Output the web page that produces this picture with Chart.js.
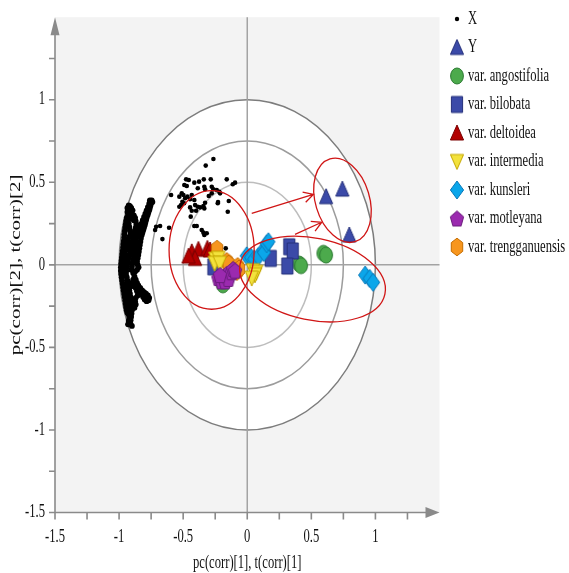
<!DOCTYPE html>
<html>
<head>
<meta charset="utf-8">
<script src="https://cdn.jsdelivr.net/npm/chart.js@4"></script>
<style>
  html, body { margin: 0; padding: 0; background: #fff; }
  canvas { display: block; }
</style>
</head>
<body>
<canvas id="chart" width="569" height="573"></canvas>
<script>
// ---- data ----
const xTicks = [-1.5, -1, -0.5, 0, 0.5, 1];
const yTicks = [-1.5, -1, -0.5, 0, 0.5, 1];
const circleRadii = [1, 0.75, 0.5];
const xTitle = "pc(corr)[1], t(corr)[1]";
const yTitle = "pc(corr)[2], t(corr)[2]";
const legendLabels = ["X", "Y", "var. angostifolia", "var. bilobata", "var. deltoidea",
    "var. intermedia", "var. kunsleri", "var. motleyana", "var. trengganuensis"];

// X variables: dense band near the unit circle + scattered dots
const xBand = [
    [-0.745, 0.39], [-0.75, 0.375], [-0.755, 0.36], [-0.76, 0.345], [-0.765, 0.33], [-0.772, 0.315], [-0.778, 0.30],
    [-0.785, 0.285], [-0.79, 0.27], [-0.795, 0.255], [-0.80, 0.24], [-0.806, 0.225], [-0.812, 0.21], [-0.818, 0.195], [-0.824, 0.18],
    [-0.765, 0.37], [-0.775, 0.35], [-0.785, 0.33], [-0.795, 0.31], [-0.805, 0.29], [-0.815, 0.27], [-0.825, 0.25], [-0.83, 0.23],
    [-0.74, 0.38], [-0.76, 0.39], [-0.78, 0.32], [-0.79, 0.29], [-0.80, 0.26], [-0.81, 0.24], [-0.82, 0.22],
    [-0.84, 0.22], [-0.855, 0.21], [-0.87, 0.20],
    [-0.925, 0.36], [-0.915, 0.355], [-0.905, 0.345], [-0.895, 0.33], [-0.91, 0.325], [-0.925, 0.335], [-0.935, 0.32], [-0.93, 0.30],
    [-0.915, 0.30], [-0.90, 0.31], [-0.885, 0.30], [-0.875, 0.285], [-0.87, 0.265], [-0.885, 0.27], [-0.90, 0.28], [-0.94, 0.285],
    [-0.935, 0.345], [-0.92, 0.31], [-0.905, 0.295], [-0.89, 0.285],
    [-0.945, 0.265], [-0.948, 0.245], [-0.952, 0.225], [-0.955, 0.205], [-0.958, 0.185], [-0.96, 0.165], [-0.963, 0.145],
    [-0.966, 0.125], [-0.969, 0.105], [-0.972, 0.085], [-0.975, 0.065], [-0.978, 0.045], [-0.981, 0.025], [-0.984, 0.005],
    [-0.986, -0.015], [-0.986, -0.035], [-0.984, -0.055], [-0.98, -0.075], [-0.976, -0.095], [-0.972, -0.115], [-0.968, -0.135],
    [-0.964, -0.155], [-0.96, -0.175], [-0.956, -0.195], [-0.952, -0.215], [-0.948, -0.235],
    [-0.93, 0.27], [-0.925, 0.25], [-0.92, 0.23], [-0.915, 0.21], [-0.91, 0.19], [-0.92, 0.17], [-0.93, 0.15], [-0.935, 0.13],
    [-0.94, 0.11], [-0.945, 0.09],
    [-0.865, 0.245], [-0.87, 0.225], [-0.876, 0.205], [-0.882, 0.185], [-0.888, 0.165], [-0.894, 0.145], [-0.90, 0.125],
    [-0.906, 0.105], [-0.912, 0.085], [-0.918, 0.065], [-0.924, 0.045], [-0.93, 0.025], [-0.936, 0.005], [-0.94, -0.015],
    [-0.944, -0.035], [-0.946, -0.055],
    [-0.85, 0.19], [-0.86, 0.17], [-0.87, 0.15], [-0.865, 0.13], [-0.87, 0.11], [-0.875, 0.09], [-0.88, 0.07], [-0.885, 0.05],
    [-0.89, 0.03], [-0.895, 0.01], [-0.90, -0.01], [-0.905, -0.03],
    [-0.955, 0.10], [-0.96, 0.08], [-0.955, 0.06], [-0.95, 0.04], [-0.958, 0.02], [-0.962, 0.0], [-0.965, -0.02], [-0.962, -0.04],
    [-0.83, 0.16], [-0.834, 0.14], [-0.838, 0.12], [-0.842, 0.10], [-0.846, 0.08], [-0.85, 0.06], [-0.855, 0.04], [-0.86, 0.02],
    [-0.855, 0.0], [-0.848, -0.015], [-0.86, -0.03], [-0.875, -0.04], [-0.89, -0.05],
    [-0.94, -0.075], [-0.935, -0.095], [-0.93, -0.115], [-0.925, -0.135], [-0.92, -0.155], [-0.915, -0.175], [-0.91, -0.195],
    [-0.906, -0.215], [-0.903, -0.235], [-0.90, -0.255], [-0.90, -0.275], [-0.903, -0.295], [-0.906, -0.315], [-0.91, -0.335], [-0.912, -0.355],
    [-0.95, -0.12], [-0.945, -0.14], [-0.94, -0.16], [-0.935, -0.18], [-0.93, -0.20], [-0.93, -0.22], [-0.93, -0.24],
    [-0.92, -0.26], [-0.915, -0.28], [-0.925, -0.34], [-0.93, -0.36], [-0.90, -0.37],
    [-0.945, -0.255], [-0.94, -0.275], [-0.935, -0.29], [-0.925, -0.30], [-0.92, -0.32],
    [-0.88, -0.07], [-0.87, -0.09], [-0.86, -0.11], [-0.85, -0.125], [-0.835, -0.14], [-0.82, -0.155], [-0.805, -0.165],
    [-0.79, -0.175], [-0.775, -0.185], [-0.765, -0.20], [-0.77, -0.215], [-0.785, -0.22], [-0.80, -0.21], [-0.812, -0.195],
    [-0.825, -0.18], [-0.84, -0.175], [-0.855, -0.185], [-0.87, -0.20], [-0.875, -0.22], [-0.87, -0.24], [-0.88, -0.26],
    [-0.82, -0.17], [-0.80, -0.19], [-0.78, -0.20], [-0.85, -0.15], [-0.86, -0.16], [-0.88, -0.12], [-0.87, -0.14],
    [-0.89, -0.09], [-0.90, -0.11], [-0.905, -0.13]
];
const xScatter = [
    [-0.264, 0.641], [-0.324, 0.601], [-0.477, 0.518], [-0.413, 0.498], [-0.376, 0.504], [-0.339, 0.518], [-0.285, 0.518],
    [-0.160, 0.518], [-0.113, 0.488], [-0.095, 0.498], [-0.491, 0.484], [-0.472, 0.478], [-0.277, 0.473], [-0.264, 0.458],
    [-0.238, 0.453], [-0.218, 0.443], [-0.335, 0.473], [-0.329, 0.458], [-0.386, 0.464], [-0.594, 0.423], [-0.511, 0.433],
    [-0.498, 0.423], [-0.530, 0.413], [-0.485, 0.403], [-0.467, 0.413], [-0.433, 0.423], [-0.446, 0.397], [-0.413, 0.393],
    [-0.300, 0.417], [-0.277, 0.433], [-0.212, 0.433], [-0.506, 0.382], [-0.493, 0.373], [-0.516, 0.362], [-0.530, 0.352],
    [-0.407, 0.362], [-0.386, 0.352], [-0.368, 0.348], [-0.342, 0.356], [-0.329, 0.376], [-0.335, 0.342], [-0.446, 0.348],
    [-0.433, 0.328], [-0.399, 0.328], [-0.230, 0.373], [-0.144, 0.387], [-0.152, 0.322], [-0.441, 0.292], [-0.413, 0.235],
    [-0.394, 0.235], [-0.355, 0.211], [-0.342, 0.195], [-0.335, 0.181], [-0.680, 0.235], [-0.711, 0.231], [-0.719, 0.211],
    [-0.662, 0.156], [-0.610, 0.225], [-0.316, 0.191], [-0.168, 0.100], [-0.456, 0.514], [-0.228, 0.381]
];
const yVars = [[0.615, 0.413], [0.742, 0.459], [0.796, 0.181]];
const angostifolia = [[0.405, 0.005], [0.42, -0.005], [0.594, 0.070], [0.615, 0.059], [-0.19, -0.121]];
const bilobata = [[0.183, 0.039], [0.328, 0.110], [0.355, 0.084], [0.313, -0.007], [-0.264, -0.012]];
const deltoidea = [[-0.433, 0.079], [-0.381, 0.094], [-0.311, 0.100], [-0.407, 0.039], [-0.290, 0.090], [-0.458, 0.053]];
const intermedia = [[-0.25, 0.035], [-0.225, 0.04], [-0.255, 0.01], [-0.215, 0.01], [0.045, -0.035], [0.07, -0.045], [0.06, -0.06], [0.035, -0.08]];
const kunsleri = [[-0.004, 0.055], [0.03, 0.045], [0.055, 0.035], [0.087, 0.05], [0.126, 0.09], [0.13, 0.075], [0.152, 0.128],
    [0.165, 0.14], [0.92, -0.062], [0.955, -0.082], [0.982, -0.106]];
const motleyana = [[-0.225, -0.08], [-0.2, -0.1], [-0.173, -0.1], [-0.16, -0.055], [-0.147, -0.085], [-0.121, -0.045],
    [-0.11, -0.025], [-0.095, -0.035], [-0.212, -0.062]];
const trengganuensis = [[-0.236, 0.095], [-0.16, 0.02], [-0.145, 0.005], [-0.075, -0.01], [-0.08, -0.04], [-0.065, -0.025]];

// red hand-drawn annotations (data units)
const ellipses = [
    { cx: -0.278, cy: 0.090, rx: 0.332, ry: 0.359, rot: 0 },
    { cx: 0.509, cy: -0.086, rx: 0.577, ry: 0.248, rot: 11.7 },
    { cx: 0.743, cy: 0.391, rx: 0.211, ry: 0.262, rot: -16.8 }
];
const arrows = [
    { from: [0.035, 0.312], to: [0.516, 0.427] },
    { from: [0.373, 0.185], to: [0.581, 0.258] }
];

// ---- markers (image is squeezed horizontally, so shapes are taller than wide) ----
function polygon(n, rx, ry, dy) {
    const pts = [];
    for (let k = 0; k < n; k++) {
        const a = -Math.PI / 2 + k * 2 * Math.PI / n;
        pts.push([rx * Math.cos(a), ry * Math.sin(a) + dy]);
    }
    return pts;
}

function makeMarker(shape, fill, stroke) {
    const c = document.createElement("canvas");
    c.width = 18; c.height = 22;
    const g = c.getContext("2d");
    g.translate(9, 11);
    g.beginPath();
    if (shape === "circle") g.ellipse(0, 0, 6.4, 8, 0, 0, Math.PI * 2);
    else if (shape === "rect") g.rect(-5.6, -8, 11.2, 16);
    else {
        const pts = {
            up: [[0, -8], [6.6, 7], [-6.6, 7]],
            down: [[-6.6, -7], [6.6, -7], [0, 8]],
            diamond: [[0, -9], [6.6, 0], [0, 9], [-6.6, 0]],
            pentagon: polygon(5, 7, 8.3, 0.8),
            hexagon: polygon(6, 6.6, 8.8, 0)
        }[shape];
        pts.forEach((p, i) => i ? g.lineTo(p[0], p[1]) : g.moveTo(p[0], p[1]));
        g.closePath();
    }
    g.fillStyle = fill; g.fill();
    g.lineWidth = 1; g.strokeStyle = stroke; g.stroke();
    return c;
}

const markers = [
    null,
    makeMarker("up", "#3b4aa8", "#25307a"),
    makeMarker("circle", "#4caa4c", "#2d7a33"),
    makeMarker("rect", "#3b4aa8", "#25307a"),
    makeMarker("up", "#b20000", "#7a0000"),
    makeMarker("down", "#f3e23c", "#c4a600"),
    makeMarker("diamond", "#0ba6ea", "#0a78b8"),
    makeMarker("pentagon", "#9b2aaf", "#6a1c7c"),
    makeMarker("hexagon", "#f7961e", "#c46c00")
];

const toXY = arr => arr.map(p => ({ x: p[0], y: p[1] }));
// order: lower = drawn on top
const datasets = [
    {
        label: legendLabels[0], data: toXY(xBand.concat(xScatter)), pointStyle: "circle",
        pointRadius: c => c.dataIndex < xBand.length ? 2.9 : 2.3, backgroundColor: "#000", borderWidth: 0, order: 9
    },
    { label: legendLabels[1], data: toXY(yVars), pointStyle: markers[1], order: 8 },
    { label: legendLabels[2], data: toXY(angostifolia), pointStyle: markers[2], order: 7 },
    { label: legendLabels[3], data: toXY(bilobata), pointStyle: markers[3], order: 6 },
    { label: legendLabels[4], data: toXY(deltoidea), pointStyle: markers[4], order: 5 },
    { label: legendLabels[5], data: toXY(intermedia), pointStyle: markers[5], order: 1 },
    { label: legendLabels[6], data: toXY(kunsleri), pointStyle: markers[6], order: 3 },
    { label: legendLabels[7], data: toXY(motleyana), pointStyle: markers[7], order: 0 },
    { label: legendLabels[8], data: toXY(trengganuensis), pointStyle: markers[8], order: 2 }
];

// condensed Times-like text
function sqText(ctx, text, x, y, align, size) {
    ctx.save();
    ctx.translate(x, y);
    ctx.scale(0.7, 1);
    ctx.font = `${size}px "Liberation Serif", "DejaVu Serif", serif`;
    ctx.textAlign = align;
    ctx.textBaseline = "middle";
    ctx.fillStyle = "#111";
    ctx.fillText(text, 0, 0);
    ctx.restore();
}

const backdrop = {
    id: "backdrop",
    beforeDatasetsDraw(chart) {
        const { ctx, chartArea: a, scales: { x, y } } = chart;
        const cx = x.getPixelForValue(0), cy = y.getPixelForValue(0);
        const ux = x.getPixelForValue(1) - cx, uy = cy - y.getPixelForValue(1);
        ctx.save();
        ctx.fillStyle = "#f3f3f3";
        ctx.fillRect(a.left, a.top, a.right - a.left, a.bottom - a.top);
        ctx.fillStyle = "#fff";
        ctx.beginPath(); ctx.ellipse(cx, cy, ux, uy, 0, 0, Math.PI * 2); ctx.fill();
        const cols = ["#7c7c7c", "#9c9c9c", "#bdbdbd"];
        circleRadii.forEach((r, i) => {
            ctx.beginPath(); ctx.ellipse(cx, cy, ux * r, uy * r, 0, 0, Math.PI * 2);
            ctx.strokeStyle = cols[i]; ctx.lineWidth = 1.5; ctx.stroke();
        });
        ctx.strokeStyle = "#a3a3a3"; ctx.lineWidth = 1.5;
        ctx.beginPath();
        ctx.moveTo(cx, a.top); ctx.lineTo(cx, a.bottom);
        ctx.moveTo(a.left, cy); ctx.lineTo(a.right, cy);
        ctx.stroke();
        ctx.restore();
    }
};

const annotations = {
    id: "annotations",
    afterDatasetsDraw(chart) {
        const { ctx, scales: { x, y } } = chart;
        const ux = x.getPixelForValue(1) - x.getPixelForValue(0);
        const uy = y.getPixelForValue(0) - y.getPixelForValue(1);
        ctx.save();
        ctx.strokeStyle = "#d01515"; ctx.lineWidth = 1.3;
        ellipses.forEach(e => {
            ctx.beginPath();
            ctx.ellipse(x.getPixelForValue(e.cx), y.getPixelForValue(e.cy), e.rx * ux, e.ry * uy, e.rot * Math.PI / 180, 0, Math.PI * 2);
            ctx.stroke();
        });
        arrows.forEach(ar => {
            const x0 = x.getPixelForValue(ar.from[0]), y0 = y.getPixelForValue(ar.from[1]);
            const x1 = x.getPixelForValue(ar.to[0]), y1 = y.getPixelForValue(ar.to[1]);
            const ang = Math.atan2(y1 - y0, x1 - x0), len = 11;
            ctx.beginPath();
            ctx.moveTo(x0, y0); ctx.lineTo(x1, y1);
            ctx.moveTo(x1 - len * Math.cos(ang - 0.5), y1 - len * Math.sin(ang - 0.5));
            ctx.lineTo(x1, y1);
            ctx.lineTo(x1 - len * Math.cos(ang + 0.5), y1 - len * Math.sin(ang + 0.5));
            ctx.stroke();
        });
        ctx.restore();
    }
};

const axesAndLegend = {
    id: "axesAndLegend",
    afterDraw(chart) {
        const { ctx, chartArea: a, scales: { x, y } } = chart;
        ctx.save();
        ctx.strokeStyle = "#8a8a8a"; ctx.fillStyle = "#8a8a8a"; ctx.lineWidth = 1.6;
        ctx.beginPath();
        ctx.moveTo(a.left, a.bottom); ctx.lineTo(a.right - 10, a.bottom);
        ctx.moveTo(a.left, a.bottom); ctx.lineTo(a.left, a.top + 14);
        // minor + major ticks every 0.25
        for (let v = -1.5; v < 1.5; v += 0.25) {
            const px = x.getPixelForValue(v), py = y.getPixelForValue(v);
            ctx.moveTo(px, a.bottom); ctx.lineTo(px, a.bottom + 7);
            ctx.moveTo(a.left, py); ctx.lineTo(a.left - 6, py);
        }
        ctx.stroke();
        // arrow heads
        ctx.beginPath();
        ctx.moveTo(a.right, a.bottom); ctx.lineTo(a.right - 14, a.bottom - 5.5); ctx.lineTo(a.right - 14, a.bottom + 5.5); ctx.closePath();
        ctx.moveTo(a.left, a.top); ctx.lineTo(a.left - 4.5, a.top + 18); ctx.lineTo(a.left + 4.5, a.top + 18); ctx.closePath();
        ctx.fill();
        ctx.restore();

        xTicks.forEach(v => sqText(ctx, String(v), x.getPixelForValue(v), 537, "center", 18));
        yTicks.forEach(v => sqText(ctx, String(v), 45, y.getPixelForValue(v), "right", 18));
        sqText(ctx, xTitle, x.getPixelForValue(0), 563, "center", 18);

        ctx.save();
        ctx.translate(16, y.getPixelForValue(0));
        ctx.scale(0.7, 1);
        ctx.rotate(-Math.PI / 2);
        ctx.font = `21px "Liberation Serif", "DejaVu Serif", serif`;
        ctx.textAlign = "center"; ctx.textBaseline = "middle"; ctx.fillStyle = "#111";
        ctx.fillText(yTitle, 0, 0);
        ctx.restore();

        // legend
        legendLabels.forEach((lab, i) => {
            const ly = 19 + i * 28.5;
            if (markers[i]) ctx.drawImage(markers[i], 457 - 9, ly - 11);
            else {
                ctx.beginPath(); ctx.arc(457, ly, 2.2, 0, Math.PI * 2);
                ctx.fillStyle = "#000"; ctx.fill();
            }
            sqText(ctx, lab, 468, ly, "left", 18);
        });
    }
};

new Chart(document.getElementById("chart"), {
    type: "scatter",
    data: { datasets },
    options: {
        responsive: false, animation: false, events: [],
        layout: { padding: { left: 55, right: 129.5, top: 17.2, bottom: 60.5 } },
        scales: {
            x: { type: "linear", min: -1.5, max: 1.5, display: false },
            y: { type: "linear", min: -1.5, max: 1.5, display: false }
        },
        plugins: { legend: { display: false }, tooltip: { enabled: false } }
    },
    plugins: [backdrop, annotations, axesAndLegend]
});
</script>
</body>
</html>
